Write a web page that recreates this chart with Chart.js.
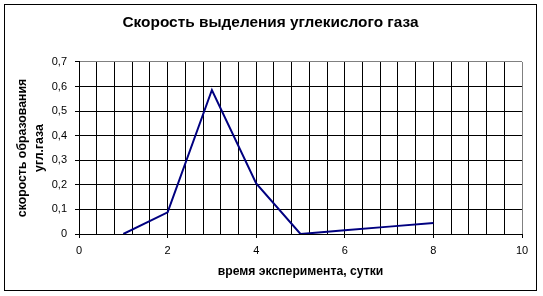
<!DOCTYPE html>
<html lang="ru">
<head>
    <meta charset="UTF-8">
    <title>Скорость выделения углекислого газа</title>
    <script src="https://cdn.jsdelivr.net/npm/chart.js"></script>
    <style>
        html, body { margin: 0; padding: 0; background: #fff; }
        #wrap { width: 543px; height: 296px; }
    </style>
</head>
<body>
    <div id="wrap"><canvas id="co2Chart" width="543" height="296"></canvas></div>

    <script>
        // Данные графика
        const days = [1, 2, 3, 4, 5, 6, 7, 8];
        const rate = [0, 0.088, 0.586, 0.206, 0, 0.015, 0.03, 0.045];
        const xTickLabels = [0, 2, 4, 6, 8, 10];
        const yTickLabels = ['0', '0,1', '0,2', '0,3', '0,4', '0,5', '0,6', '0,7'];

        const FONT = 'Arial, "Liberation Sans", sans-serif';

        // Рамка вокруг всей диаграммы
        const outerBorder = {
            id: 'outerBorder',
            afterLayout(chart) {
                // заголовок по центру всего рисунка, а не области графика
                if (chart.titleBlock) {
                    chart.titleBlock.left = 0;
                    chart.titleBlock.right = 541;
                }
            },
            afterDraw(chart) {
                const ctx = chart.ctx;
                ctx.save();
                ctx.strokeStyle = '#000';
                ctx.lineWidth = 1;
                ctx.strokeRect(4.5, 4.5, 532, 286);
                ctx.restore();
            }
        };

        const isMajorX = (v) => xTickLabels.some(t => Math.abs(t - v) < 1e-6);

        new Chart(document.getElementById('co2Chart').getContext('2d'), {
            type: 'line',
            data: {
                datasets: [{
                    data: days.map((d, i) => ({ x: d, y: rate[i] })),
                    borderColor: '#000080',
                    borderWidth: 2,
                    pointRadius: 0,
                    tension: 0,
                    fill: false
                }]
            },
            options: {
                responsive: false,
                animation: false,
                layout: { padding: { left: 0, right: 21, top: 0, bottom: 0 } },
                plugins: {
                    legend: { display: false },
                    tooltip: { enabled: false },
                    title: {
                        display: true,
                        text: 'Скорость выделения углекислого газа',
                        color: '#000',
                        font: { family: FONT, size: 15.4, weight: 'bold' },
                        padding: { top: 13.5, bottom: 30 }
                    }
                },
                scales: {
                    x: {
                        type: 'linear',
                        min: 0,
                        max: 10,
                        afterFit(scale) { scale.height = 62; },
                        ticks: {
                            stepSize: 0.4,
                            autoSkip: false,
                            maxRotation: 0,
                            color: '#000',
                            padding: 6,
                            font: { family: FONT, size: 11 },
                            callback: (v) => isMajorX(v) ? String(Math.round(v)) : ''
                        },
                        grid: {
                            color: (c) => (c.tick && Math.abs(c.tick.value - 10) < 1e-6) ? '#808080' : '#000',
                            tickColor: (c) => (c.tick && isMajorX(c.tick.value)) ? '#000' : 'rgba(0,0,0,0)',
                            tickLength: 4,
                            lineWidth: 1
                        },
                        border: { color: '#000', width: 1 },
                        title: {
                            display: true,
                            text: 'время эксперимента, сутки',
                            color: '#000',
                            font: { family: FONT, size: 12.2, weight: 'bold' },
                            padding: { top: 0, bottom: 16.7 }
                        }
                    },
                    y: {
                        min: 0,
                        max: 0.7,
                        afterFit(scale) { scale.width = 79; },
                        ticks: {
                            stepSize: 0.1,
                            color: '#000',
                            padding: 8,
                            font: { family: FONT, size: 11 },
                            callback: (v) => yTickLabels[Math.round(v * 10)]
                        },
                        grid: {
                            color: (c) => (c.tick && Math.abs(c.tick.value - 0.7) < 1e-6) ? '#808080' : '#000',
                            tickColor: '#000',
                            tickLength: 4,
                            lineWidth: 1
                        },
                        border: { color: '#000', width: 1 },
                        title: {
                            display: true,
                            text: ['скорость образования', 'угл.газа'],
                            color: '#000',
                            font: { family: FONT, size: 12.3, weight: 'bold', lineHeight: 1.35 },
                            padding: { top: 14.7, bottom: 0 }
                        }
                    }
                }
            },
            plugins: [outerBorder]
        });
    </script>
</body>
</html>
